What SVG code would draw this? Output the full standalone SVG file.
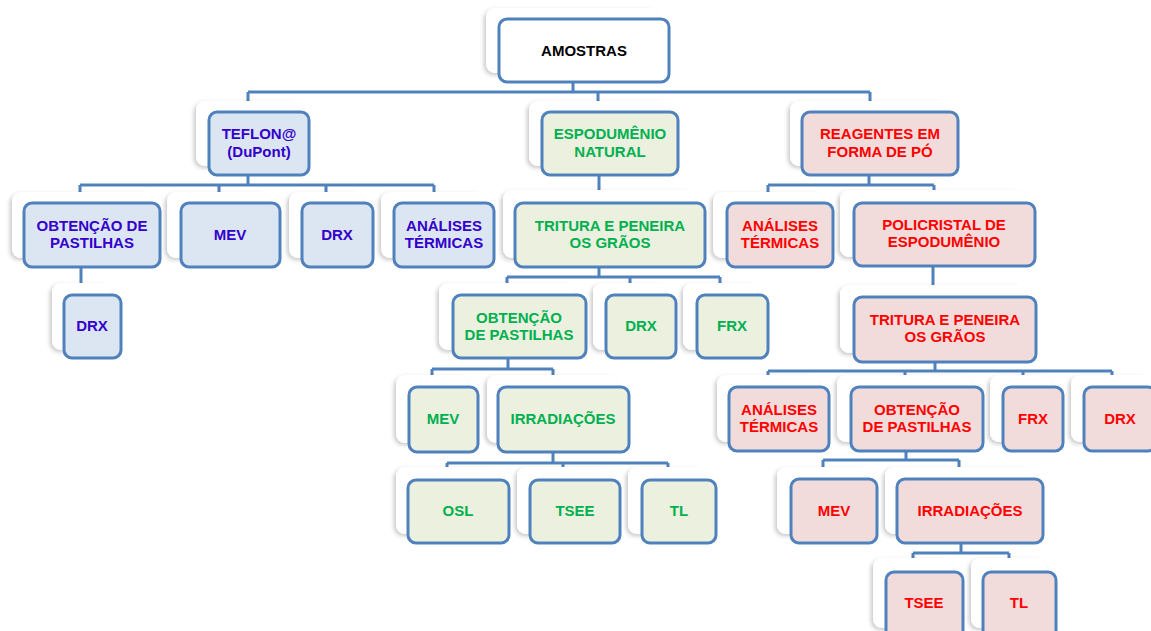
<svg xmlns="http://www.w3.org/2000/svg" width="1151" height="631" viewBox="0 0 1151 631">
<defs>
<filter id="sh" x="-20%" y="-20%" width="140%" height="150%">
<feDropShadow dx="-2" dy="2" stdDeviation="2" flood-color="#000" flood-opacity="0.22"/>
</filter>
</defs>
<style>
.card{fill:#fff;filter:url(#sh)}
.box{stroke:#4F81BD;stroke-width:3}
.w{fill:#fff}.b{fill:#DCE6F2}.g{fill:#EBF1DE}.r{fill:#F2DCDB}
text{font-family:"Liberation Sans",Arial,sans-serif;font-weight:bold;font-size:15px;text-anchor:middle}
.tk{fill:#000}.tb{fill:#3300CC}.tg{fill:#00B050}.tr{fill:#FF0000}
#connectors path{fill:none;stroke:#4F81BD;stroke-width:3}
</style>
<rect width="1151" height="631" fill="#fff"/>
<g id="connectors">
<path d="M573 82V92M248 92H870M248 92V104M598 92V104M870 92V104"/>
<path d="M248 175V185M80 185H434M80 185V196M219 185V196M326 185V196M434 185V196"/>
<path d="M81 267V288"/>
<path d="M599 175V196"/>
<path d="M599 267V277M507 277H720M507 277V288M630 277V288M720 277V288"/>
<path d="M869 175V185M768 185H934M768 185V196M934 185V196"/>
<path d="M933 266V290"/>
<path d="M935 362V371M768 371H1112M768 371V380M905 371V380M1023 371V380M1112 371V380"/>
<path d="M508 358V369M432 369H553M432 369V380M553 369V380"/>
<path d="M553 452V463M447 463H668M447 463V473M563 463V473M668 463V473"/>
<path d="M906 451V460M823 460H959M823 460V472M959 460V472"/>
<path d="M961 543V553M913 553H1009M913 553V565M1009 553V565"/>
</g>
<g id="n-amostras"><rect class="card" x="486" y="8" width="172" height="65" rx="9"/><rect class="box w" x="499" y="19" width="170" height="63" rx="8"/><text class="tk" x="584" y="56">AMOSTRAS</text></g>
<g id="n-teflon"><rect class="card" x="196" y="101" width="103" height="65" rx="9"/><rect class="box b" x="209" y="112" width="100" height="63" rx="8"/><text class="tb" x="259" y="139">TEFLON@</text><text class="tb" x="259" y="157">(DuPont)</text></g>
<g id="n-espodumenio"><rect class="card" x="529" y="101" width="139" height="65" rx="9"/><rect class="box g" x="542" y="112" width="136" height="63" rx="8"/><text class="tg" x="610" y="139">ESPODUMÊNIO</text><text class="tg" x="610" y="157">NATURAL</text></g>
<g id="n-reagentes"><rect class="card" x="790" y="101" width="158" height="65" rx="9"/><rect class="box r" x="802" y="112" width="156" height="63" rx="8"/><text class="tr" x="880" y="139">REAGENTES EM</text><text class="tr" x="880" y="157">FORMA DE PÓ</text></g>
<g id="n-obt-b"><rect class="card" x="12" y="192" width="140" height="66" rx="9"/><rect class="box b" x="24" y="203" width="136" height="64" rx="8"/><text class="tb" x="92" y="231">OBTENÇÃO DE</text><text class="tb" x="92" y="248">PASTILHAS</text></g>
<g id="n-mev-b"><rect class="card" x="167" y="192" width="103" height="66" rx="9"/><rect class="box b" x="181" y="203" width="99" height="64" rx="8"/><text class="tb" x="230" y="240">MEV</text></g>
<g id="n-drx-b"><rect class="card" x="289" y="192" width="74" height="66" rx="9"/><rect class="box b" x="302" y="203" width="71" height="64" rx="8"/><text class="tb" x="337" y="240">DRX</text></g>
<g id="n-ana-b"><rect class="card" x="381" y="192" width="104" height="66" rx="9"/><rect class="box b" x="394" y="203" width="100" height="64" rx="8"/><text class="tb" x="444" y="231">ANÁLISES</text><text class="tb" x="444" y="248">TÉRMICAS</text></g>
<g id="n-drx-b2"><rect class="card" x="52" y="283" width="59" height="67" rx="9"/><rect class="box b" x="64" y="295" width="57" height="63" rx="8"/><text class="tb" x="92" y="331">DRX</text></g>
<g id="n-trit-g"><rect class="card" x="503" y="190" width="192" height="68" rx="9"/><rect class="box g" x="515" y="203" width="190" height="64" rx="8"/><text class="tg" x="610" y="231">TRITURA E PENEIRA</text><text class="tg" x="610" y="248">OS GRÃOS</text></g>
<g id="n-ana-r"><rect class="card" x="713" y="192" width="110" height="66" rx="9"/><rect class="box r" x="727" y="203" width="106" height="64" rx="8"/><text class="tr" x="780" y="231">ANÁLISES</text><text class="tr" x="780" y="248">TÉRMICAS</text></g>
<g id="n-poli"><rect class="card" x="840" y="190" width="185" height="67" rx="9"/><rect class="box r" x="854" y="203" width="181" height="63" rx="8"/><text class="tr" x="944" y="230">POLICRISTAL DE</text><text class="tr" x="944" y="247">ESPODUMÊNIO</text></g>
<g id="n-obt-g"><rect class="card" x="439" y="283" width="136" height="67" rx="9"/><rect class="box g" x="453" y="295" width="133" height="63" rx="8"/><text class="tg" x="519" y="323">OBTENÇÃO</text><text class="tg" x="519" y="340">DE PASTILHAS</text></g>
<g id="n-drx-g"><rect class="card" x="593" y="283" width="73" height="67" rx="9"/><rect class="box g" x="606" y="295" width="70" height="63" rx="8"/><text class="tg" x="641" y="331">DRX</text></g>
<g id="n-frx-g"><rect class="card" x="683" y="283" width="74" height="67" rx="9"/><rect class="box g" x="697" y="295" width="71" height="63" rx="8"/><text class="tg" x="732" y="331">FRX</text></g>
<g id="n-trit-r"><rect class="card" x="840" y="285" width="185" height="68" rx="9"/><rect class="box r" x="854" y="297" width="182" height="65" rx="8"/><text class="tr" x="945" y="325">TRITURA E PENEIRA</text><text class="tr" x="945" y="342">OS GRÃOS</text></g>
<g id="n-mev-g"><rect class="card" x="396" y="375" width="72" height="68" rx="9"/><rect class="box g" x="409" y="387" width="69" height="65" rx="8"/><text class="tg" x="443" y="424">MEV</text></g>
<g id="n-irr-g"><rect class="card" x="487" y="375" width="131" height="68" rx="9"/><rect class="box g" x="498" y="387" width="131" height="65" rx="8"/><text class="tg" x="563" y="424">IRRADIAÇÕES</text></g>
<g id="n-ana-r2"><rect class="card" x="717" y="375" width="102" height="67" rx="9"/><rect class="box r" x="729" y="387" width="100" height="64" rx="8"/><text class="tr" x="779" y="415">ANÁLISES</text><text class="tr" x="779" y="432">TÉRMICAS</text></g>
<g id="n-obt-r"><rect class="card" x="837" y="375" width="135" height="67" rx="9"/><rect class="box r" x="851" y="387" width="132" height="64" rx="8"/><text class="tr" x="917" y="415">OBTENÇÃO</text><text class="tr" x="917" y="432">DE PASTILHAS</text></g>
<g id="n-frx-r"><rect class="card" x="990" y="375" width="62" height="67" rx="9"/><rect class="box r" x="1003" y="387" width="60" height="64" rx="8"/><text class="tr" x="1033" y="424">FRX</text></g>
<g id="n-drx-r"><rect class="card" x="1071" y="375" width="80" height="67" rx="9"/><rect class="box r" x="1084" y="387" width="72" height="64" rx="8"/><text class="tr" x="1120" y="424">DRX</text></g>
<g id="n-osl"><rect class="card" x="396" y="467" width="104" height="67" rx="9"/><rect class="box g" x="408" y="480" width="101" height="63" rx="8"/><text class="tg" x="458" y="516">OSL</text></g>
<g id="n-tsee-g"><rect class="card" x="517" y="467" width="93" height="67" rx="9"/><rect class="box g" x="530" y="480" width="90" height="63" rx="8"/><text class="tg" x="575" y="516">TSEE</text></g>
<g id="n-tl-g"><rect class="card" x="628" y="467" width="77" height="67" rx="9"/><rect class="box g" x="642" y="480" width="74" height="63" rx="8"/><text class="tg" x="679" y="516">TL</text></g>
<g id="n-mev-r"><rect class="card" x="777" y="467" width="90" height="67" rx="9"/><rect class="box r" x="791" y="479" width="86" height="64" rx="8"/><text class="tr" x="834" y="516">MEV</text></g>
<g id="n-irr-r"><rect class="card" x="885" y="467" width="148" height="67" rx="9"/><rect class="box r" x="897" y="479" width="146" height="64" rx="8"/><text class="tr" x="970" y="516">IRRADIAÇÕES</text></g>
<g id="n-tsee-r"><rect class="card" x="873" y="558" width="80" height="70" rx="9"/><rect class="box r" x="886" y="572" width="77" height="70" rx="8"/><text class="tr" x="924" y="608">TSEE</text></g>
<g id="n-tl-r"><rect class="card" x="971" y="558" width="75" height="70" rx="9"/><rect class="box r" x="983" y="572" width="73" height="70" rx="8"/><text class="tr" x="1019" y="608">TL</text></g>
</svg>
